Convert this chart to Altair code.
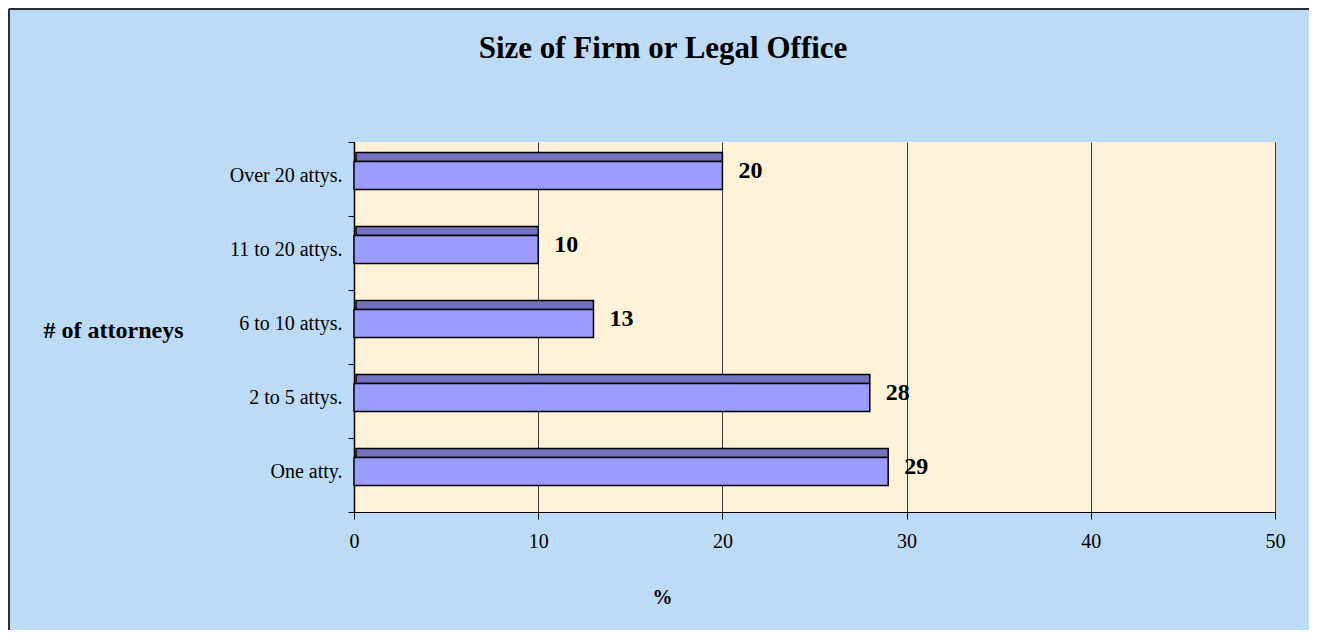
import altair as alt
import pandas as pd

categories = ["Over 20 attys.", "11 to 20 attys.", "6 to 10 attys.", "2 to 5 attys.", "One atty."]
values = [20, 10, 13, 28, 29]
x_ticks = [0, 10, 20, 30, 40, 50]
chart_title = "Size of Firm or Legal Office"

df = pd.DataFrame({"cat": categories, "pct": values})

FONT = "Liberation Serif"

y_enc = alt.Y(
    "cat:N",
    sort=categories,
    scale=alt.Scale(paddingInner=0, paddingOuter=0),
    axis=alt.Axis(
        title="# of attorneys",
        titleAngle=0,
        titleAlign="right",
        titleBaseline="middle",
        titleX=-171,
        titleY=188,
        titleFont=FONT,
        titleFontSize=24,
        titleFontWeight="bold",
        titleColor="black",
        labelFont=FONT,
        labelFontSize=20,
        labelColor="black",
        labelPadding=6,
        labelOffset=-4,
        tickBand="extent",
        tickSize=6,
        tickColor="black",
        domainColor="black",
        domainWidth=1.5,
        grid=False,
    ),
)

x_enc = alt.X(
    "pct:Q",
    scale=alt.Scale(domain=[0, 50], nice=False),
    axis=alt.Axis(
        values=x_ticks,
        title="%",
        titleX=308,
        titleY=85,
        titleAlign="center",
        titleBaseline="middle",
        titleFont=FONT,
        titleFontSize=20,
        titleFontWeight="bold",
        titleColor="black",
        labelFont=FONT,
        labelFontSize=20,
        labelColor="black",
        labelPadding=12,
        labelFlush=False,
        tickSize=7,
        tickColor="black",
        domainColor="black",
        grid=True,
        gridColor="#3a3a3a",
        gridWidth=1,
    ),
)

base = alt.Chart(df)

top_face = base.mark_bar(
    height=9, yOffset=-22, x2Offset=2, color="#7272be", stroke="black", strokeWidth=1.5
).encode(x=x_enc, y=y_enc, x2=alt.value(0))

front = base.mark_bar(
    height=28, yOffset=-3.5, color="#9c9cff", stroke="black", strokeWidth=1.5
).encode(x="pct:Q", y=alt.Y("cat:N", sort=categories), x2=alt.value(0))

labels = base.mark_text(
    align="left", baseline="middle", dx=16, dy=-8, font=FONT, fontSize=24,
    fontWeight="bold", color="black"
).encode(x="pct:Q", y=alt.Y("cat:N", sort=categories), text="pct:Q")

one_df = pd.DataFrame({"t": [chart_title]})
title_mark = alt.Chart(one_df).mark_text(
    align="center", baseline="middle", font=FONT, fontSize=31, fontWeight="bold", color="black"
).encode(x=alt.value(309), y=alt.value(-93), text="t:N")

frame_df = pd.DataFrame({"k": [0]})
left_rule = alt.Chart(frame_df).mark_rule(color="#2a2f36", strokeWidth=2).encode(
    x=alt.value(-345), y=alt.value(-133), y2=alt.value(489)
)
top_rule = alt.Chart(frame_df).mark_rule(color="#2a2f36", strokeWidth=2).encode(
    x=alt.value(-345), x2=alt.value(955), y=alt.value(-133)
)

chart = (
    alt.layer(top_face, front, labels, title_mark, left_rule, top_rule)
    .properties(
        width=921,
        height=370,
        autosize=alt.AutoSizeParams(type="none"),
        padding={"left": 346, "top": 134, "right": 34, "bottom": 118},
        background="#bddaf6",
    )
    .configure_view(fill="#fdf1d8", strokeWidth=0)
)

chart.save("out.html", embed_options={"renderer": "svg", "actions": False})
